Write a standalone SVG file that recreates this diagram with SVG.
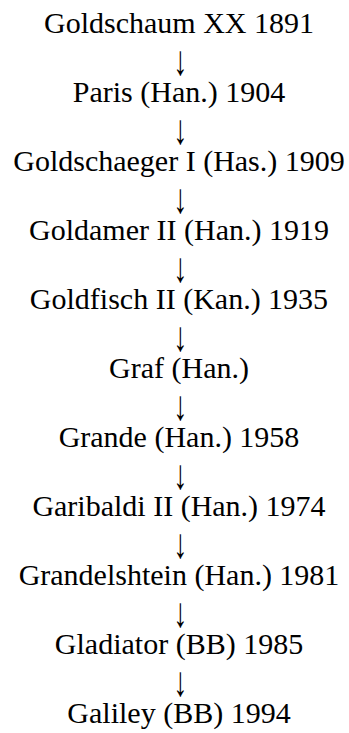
<svg xmlns="http://www.w3.org/2000/svg" width="349" height="733" viewBox="0 0 349 733">
<style>
text{fill:#000000;text-anchor:middle;font-family:'Liberation Serif','Times New Roman','DejaVu Serif',serif;font-size:30px}
.a{font-size:28px}
</style>
<rect width="349" height="733" fill="#ffffff"/>
<g id="connectors">
<text class="a" transform="translate(180.5,75) scale(1,1.5)">↓︎</text>
<text class="a" transform="translate(180.5,144) scale(1,1.5)">↓︎</text>
<text class="a" transform="translate(180.5,213) scale(1,1.5)">↓︎</text>
<text class="a" transform="translate(180.5,282) scale(1,1.5)">↓︎</text>
<text class="a" transform="translate(180.5,351) scale(1,1.5)">↓︎</text>
<text class="a" transform="translate(180.5,420) scale(1,1.5)">↓︎</text>
<text class="a" transform="translate(180.5,489) scale(1,1.5)">↓︎</text>
<text class="a" transform="translate(180.5,558) scale(1,1.5)">↓︎</text>
<text class="a" transform="translate(180.5,627) scale(1,1.5)">↓︎</text>
<text class="a" transform="translate(180.5,696) scale(1,1.5)">↓︎</text>
</g>
<g id="n1"><text x="179" y="33">Goldschaum XX 1891</text></g>
<g id="n2"><text x="179" y="102">Paris (Han.) 1904</text></g>
<g id="n3"><text x="179" y="171">Goldschaeger I (Has.) 1909</text></g>
<g id="n4"><text x="179" y="240">Goldamer II (Han.) 1919</text></g>
<g id="n5"><text x="179" y="309">Goldfisch II (Kan.) 1935</text></g>
<g id="n6"><text x="179" y="378">Graf (Han.)</text></g>
<g id="n7"><text x="179" y="447">Grande (Han.) 1958</text></g>
<g id="n8"><text x="179" y="516">Garibaldi II (Han.) 1974</text></g>
<g id="n9"><text x="179" y="585">Grandelshtein (Han.) 1981</text></g>
<g id="n10"><text x="179" y="654">Gladiator (BB) 1985</text></g>
<g id="n11"><text x="179" y="723">Galiley (BB) 1994</text></g>
</svg>
